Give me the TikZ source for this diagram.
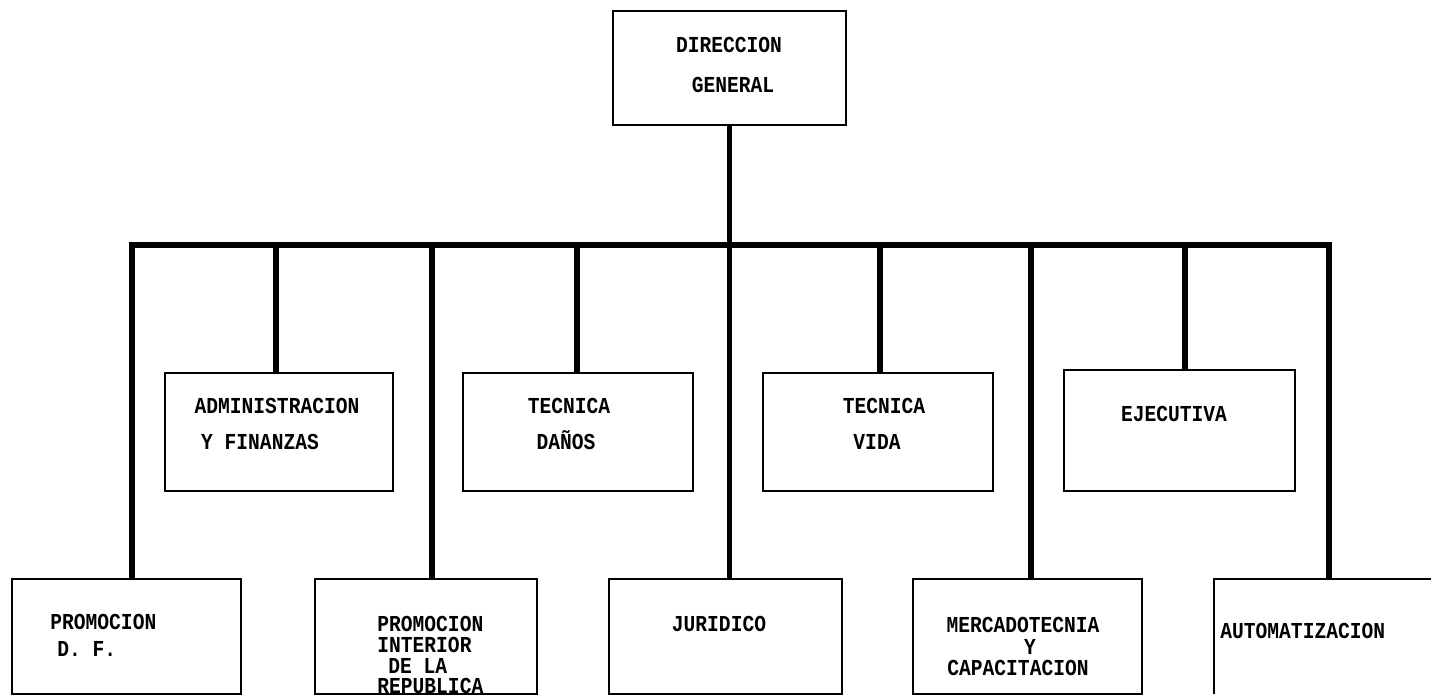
\documentclass[tikz,border=0pt]{standalone}
\usepackage{fontspec}
\newfontfamily\prn{Liberation Mono}[FakeStretch=0.86]
\usetikzlibrary{fit}
\tikzset{
  x=0.5pt, y=-0.5pt,
  unit/.style={draw, line width=1pt, inner sep=0pt},
  bar/.style={line width=2.6pt, line join=miter, line cap=butt},
  frame/.style={line width=1pt},
  txt/.style={font=\prn\bfseries\fontsize{11.4pt}{12pt}\selectfont, inner sep=0pt,
              text height=6.5pt, text depth=0pt},
}
\begin{document}
\begin{tikzpicture}
\useasboundingbox (0,0) rectangle (1431,697);

% top of the chart
\node[unit, fit={(613,11) (846,125)}] (dg) {};
\node[txt] (dg1) at (729,46) {DIRECCION};
\node[txt] (dg2) at (733,86) {GENERAL};

% middle row of units
\node[unit, fit={(165,373) (393,491)}] (adm) {};
\node[txt] (adm1) at (277,407) {ADMINISTRACION};
\node[txt] (adm2) at (260,443) {Y FINANZAS};

\node[unit, fit={(463,373) (693,491)}] (dan) {};
\node[txt] (dan1) at (569,407) {TECNICA};
\node[txt] (dan2) at (566,443) {DAÑOS};

\node[unit, fit={(763,373) (993,491)}] (vid) {};
\node[txt] (vid1) at (884,407) {TECNICA};
\node[txt] (vid2) at (877,443) {VIDA};

\node[unit, fit={(1064,370) (1295,491)}] (eje) {};
\node[txt] (eje1) at (1174,415) {EJECUTIVA};

% bottom row of units
\node[unit, fit={(12,579) (241,694)}] (pdf) {};
\node[txt, anchor=west] (pdf1) at (50,623) {PROMOCION};
\node[txt, anchor=west] (pdf2) at (57,650) {D. F.};

\node[unit, fit={(315,579) (537,694)}] (pin) {};
\node[txt, anchor=west] (pin1) at (377,625) {PROMOCION};
\node[txt, anchor=west] (pin2) at (377,646) {INTERIOR};
\node[txt, anchor=west] (pin3) at (388,667) {DE LA};
\node[txt, anchor=west] (pin4) at (377,687) {REPUBLICA};

\node[unit, fit={(609,579) (842,694)}] (jur) {};
\node[txt] (jur1) at (719,625) {JURIDICO};

\node[unit, fit={(913,579) (1142,694)}] (mer) {};
\node[txt] (mer1) at (1023,626) {MERCADOTECNIA};
\node[txt] (mer2) at (1030,648) {Y};
\node[txt] (mer3) at (1018,669) {CAPACITACION};

\node[inner sep=0pt, fit={(1214,579) (1431,694)}] (aut) {};
\draw[frame] (aut.south west) -- (aut.north west) -- (aut.north east);
\node[txt, anchor=west] (aut1) at (1220,632) {AUTOMATIZACION};

% junctions on the horizontal bus
\coordinate (j1) at (132,245);
\coordinate (j2) at (276,245);
\coordinate (j3) at (432,245);
\coordinate (j4) at (577,245);
\coordinate (j6) at (880,245);
\coordinate (j7) at (1031,245);
\coordinate (j8) at (1185,245);
\coordinate (j9) at (1329,245);

% bus with its two outer drops
\draw[bar] (j1 |- pdf.north) -- (j1) -- (j9) -- (j9 |- aut.north);
% trunk from the top unit down to JURIDICO
\draw[bar] (dg.south) -- (dg.south |- jur.north);
% drops to the other units
\draw[bar] (j2) -- (j2 |- adm.north);
\draw[bar] (j3) -- (j3 |- pin.north);
\draw[bar] (j4) -- (j4 |- dan.north);
\draw[bar] (j6) -- (j6 |- vid.north);
\draw[bar] (j7) -- (j7 |- mer.north);
\draw[bar] (j8) -- (j8 |- eje.north);
\end{tikzpicture}
\end{document}
